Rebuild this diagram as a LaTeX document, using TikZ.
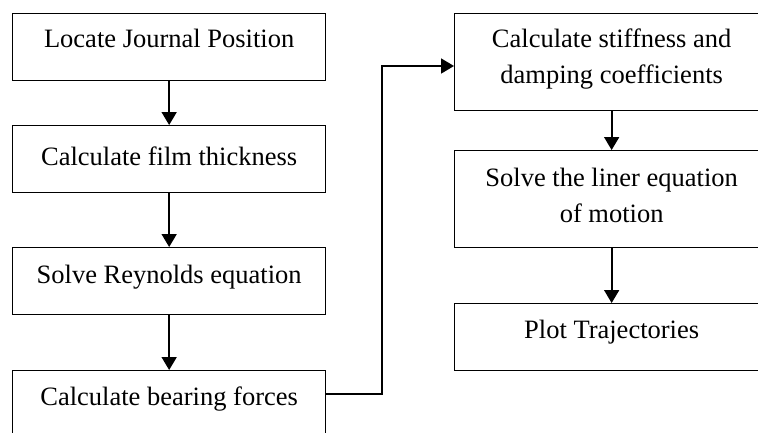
\documentclass[tikz,border=0pt]{standalone}
\usepackage{fontspec}
\setmainfont{Liberation Serif}
\usetikzlibrary{arrows.meta,calc}
\begin{document}
\begin{tikzpicture}[x=1pt,y=-1pt,
  box/.style={draw,line width=1.3pt,rectangle,inner sep=0pt,anchor=north west},
  txt/.style={inner sep=0pt,anchor=base,align=center,font=\fontsize{26.5}{35.5}\selectfont},
  flow/.style={line width=1.8pt,-{Triangle[length=13pt,width=15pt]}}]
\useasboundingbox (0,0) rectangle (758,432);
\clip (0,0) rectangle (758,432);
% left column
\node[box,minimum width=313pt,minimum height=67pt] (L1) at (12,13) {};
\node[box,minimum width=313pt,minimum height=67pt] (L2) at (12,125) {};
\node[box,minimum width=313pt,minimum height=67pt] (L3) at (12,247) {};
\node[box,minimum width=313pt,minimum height=67pt] (L4) at (12,370) {};
% right column
\node[box,minimum width=314pt,minimum height=97pt] (R1) at (454,13) {};
\node[box,minimum width=314pt,minimum height=97pt] (R2) at (454,150) {};
\node[box,minimum width=314pt,minimum height=67pt] (R3) at (454,303) {};
% texts
\node[txt] (t1) at ([yshift=-34pt]L1.north) {Locate Journal Position};
\node[txt] (t2) at ([yshift=-40pt]L2.north) {Calculate film thickness};
\node[txt] (t3) at ([yshift=-36pt]L3.north) {Solve Reynolds equation};
\node[txt] (t4) at ([yshift=-35pt]L4.north) {Calculate bearing forces};
\node[txt] (t5) at ([yshift=-70pt]R1.north) {Calculate stiffness and\\damping coefficients};
\node[txt] (t6) at ([yshift=-72pt]R2.north) {Solve the liner equation\\of motion};
\node[txt] (t7) at ([yshift=-35pt]R3.north) {Plot Trajectories};
% connectors
\draw[flow] (L1.south) -- (L2.north);
\draw[flow] (L2.south) -- (L3.north);
\draw[flow] (L3.south) -- (L4.north);
\draw[flow] (R1.south) -- (R2.north);
\draw[flow] (R2.south) -- (R3.north);
\coordinate (c1) at (382,394);
\coordinate (c2) at (382,66);
\draw[flow] (L4.east |- c1) -- (c1) -- (c2) -- (R1.west |- c2);
\end{tikzpicture}
\end{document}
